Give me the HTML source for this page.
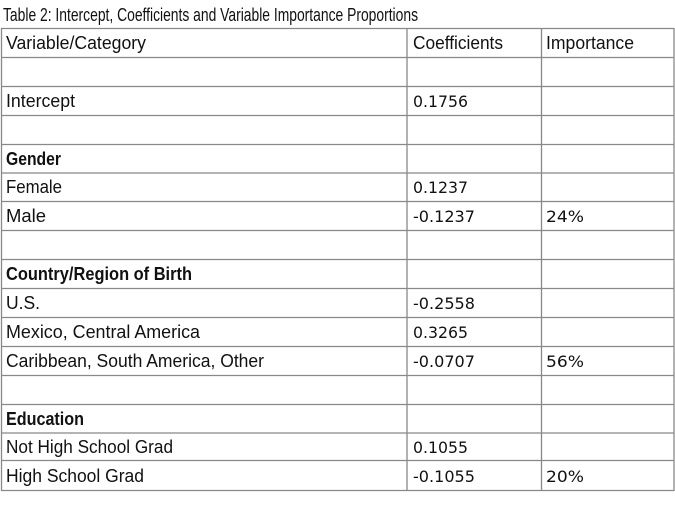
<!DOCTYPE html>
<html><head><style>
html,body{margin:0;padding:0;background:#fff;}
svg text{font-family:"DejaVu Sans","Liberation Sans",sans-serif;font-size:16px;fill:#111;}
svg text.l{font-family:"Liberation Sans","DejaVu Sans",sans-serif;font-size:18px;}
</style></head><body>
<svg width="675" height="503" xmlns="http://www.w3.org/2000/svg">
<text class="l" x="3" y="21" textLength="415" lengthAdjust="spacingAndGlyphs">Table 2: Intercept, Coefficients and Variable Importance Proportions</text>
<g stroke="#888" stroke-width="1.3" fill="none">
<line x1="1" y1="28.5" x2="674" y2="28.5"/>
<line x1="1" y1="57.5" x2="674" y2="57.5"/>
<line x1="1" y1="86.5" x2="674" y2="86.5"/>
<line x1="1" y1="115.5" x2="674" y2="115.5"/>
<line x1="1" y1="144.5" x2="674" y2="144.5"/>
<line x1="1" y1="173" x2="674" y2="173"/>
<line x1="1" y1="201.5" x2="674" y2="201.5"/>
<line x1="1" y1="230.5" x2="674" y2="230.5"/>
<line x1="1" y1="259.5" x2="674" y2="259.5"/>
<line x1="1" y1="288.5" x2="674" y2="288.5"/>
<line x1="1" y1="317.5" x2="674" y2="317.5"/>
<line x1="1" y1="346.5" x2="674" y2="346.5"/>
<line x1="1" y1="375.5" x2="674" y2="375.5"/>
<line x1="1" y1="404.5" x2="674" y2="404.5"/>
<line x1="1" y1="433" x2="674" y2="433"/>
<line x1="1" y1="460.5" x2="674" y2="460.5"/>
<line x1="1" y1="490.5" x2="674" y2="490.5"/>
<line x1="1.5" y1="28" x2="1.5" y2="491"/>
<line x1="407" y1="28" x2="407" y2="491"/>
<line x1="541.5" y1="28" x2="541.5" y2="491"/>
<line x1="674" y1="28" x2="674" y2="491"/>
</g>
<g>
<text class="l" x="6" y="49" textLength="140" lengthAdjust="spacingAndGlyphs">Variable/Category</text>
<text class="l" x="413" y="49" textLength="90" lengthAdjust="spacingAndGlyphs">Coefficients</text>
<text class="l" x="546" y="49" textLength="88" lengthAdjust="spacingAndGlyphs">Importance</text>
<text class="l" x="6" y="107" textLength="69" lengthAdjust="spacingAndGlyphs">Intercept</text>
<text x="413" y="107" textLength="55" lengthAdjust="spacingAndGlyphs">0.1756</text>
<text class="l" x="6" y="165" font-weight="bold" textLength="55" lengthAdjust="spacingAndGlyphs">Gender</text>
<text class="l" x="6" y="193" textLength="56" lengthAdjust="spacingAndGlyphs">Female</text>
<text x="413" y="193" textLength="55" lengthAdjust="spacingAndGlyphs">0.1237</text>
<text class="l" x="6" y="222" textLength="40" lengthAdjust="spacingAndGlyphs">Male</text>
<text x="413" y="222" textLength="62" lengthAdjust="spacingAndGlyphs">-0.1237</text>
<text x="546" y="222" textLength="38" lengthAdjust="spacingAndGlyphs">24%</text>
<text class="l" x="6" y="280" font-weight="bold" textLength="186" lengthAdjust="spacingAndGlyphs">Country/Region of Birth</text>
<text class="l" x="6" y="309" textLength="34" lengthAdjust="spacingAndGlyphs">U.S.</text>
<text x="413" y="309" textLength="62" lengthAdjust="spacingAndGlyphs">-0.2558</text>
<text class="l" x="6" y="338" textLength="194" lengthAdjust="spacingAndGlyphs">Mexico, Central America</text>
<text x="413" y="338" textLength="55" lengthAdjust="spacingAndGlyphs">0.3265</text>
<text class="l" x="6" y="367" textLength="258" lengthAdjust="spacingAndGlyphs">Caribbean, South America, Other</text>
<text x="413" y="367" textLength="62" lengthAdjust="spacingAndGlyphs">-0.0707</text>
<text x="546" y="367" textLength="38" lengthAdjust="spacingAndGlyphs">56%</text>
<text class="l" x="6" y="425" font-weight="bold" textLength="78" lengthAdjust="spacingAndGlyphs">Education</text>
<text class="l" x="6" y="453" textLength="167" lengthAdjust="spacingAndGlyphs">Not High School Grad</text>
<text x="413" y="453" textLength="55" lengthAdjust="spacingAndGlyphs">0.1055</text>
<text class="l" x="6" y="482" textLength="138" lengthAdjust="spacingAndGlyphs">High School Grad</text>
<text x="413" y="482" textLength="62" lengthAdjust="spacingAndGlyphs">-0.1055</text>
<text x="546" y="482" textLength="38" lengthAdjust="spacingAndGlyphs">20%</text>
</g>
</svg>
</body></html>
